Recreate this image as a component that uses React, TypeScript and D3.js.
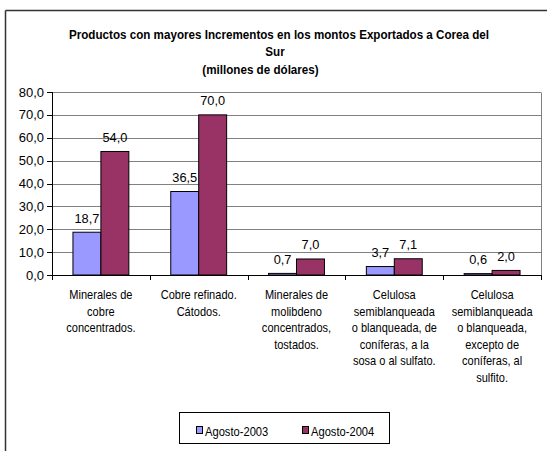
import React from "react";
import * as d3 from "d3";

const categories: string[][] = [
  ["Minerales de", "cobre", "concentrados."],
  ["Cobre refinado.", "Cátodos."],
  ["Minerales de", "molibdeno", "concentrados,", "tostados."],
  ["Celulosa", "semiblanqueada", "o blanqueada, de", "coníferas, a la", "sosa o al sulfato."],
  ["Celulosa", "semiblanqueada", "o blanqueada,", "excepto de", "coníferas, al", "sulfito."],
];
const agosto2003 = [18.7, 36.5, 0.7, 3.7, 0.6];
const agosto2004 = [54.0, 70.0, 7.0, 7.1, 2.0];
const seriesNames = ["Agosto-2003", "Agosto-2004"];
const seriesColors = ["#9999FF", "#993366"];
const yTicks = [0, 10, 20, 30, 40, 50, 60, 70, 80];
const titleLines = [
  "Productos con mayores Incrementos en los montos Exportados a Corea del",
  "Sur",
  "(millones de dólares)",
];

const W = 547;
const H = 451;
const FONT = "'Liberation Sans', Arial, sans-serif";
const fmt = (v: number) => d3.format(".1f")(v).replace(".", ",");

function CText(props: {
  x: number;
  y: number;
  sx: number;
  anchor?: "start" | "middle" | "end";
  size: number;
  bold?: boolean;
  children: React.ReactNode;
}) {
  return (
    <g transform={`translate(${props.x},${props.y}) scale(${props.sx},1)`}>
      <text
        x={0}
        y={0}
        textAnchor={props.anchor || "start"}
        fontSize={props.size}
        fontWeight={props.bold ? "bold" : "normal"}
        fill="#000"
      >
        {props.children}
      </text>
    </g>
  );
}

export default function App() {
  const left = 52;
  const right = 541;
  const top = 92;
  const bottom = 275;
  const x = d3
    .scaleBand<number>()
    .domain(categories.map((_, i) => i))
    .range([left, right])
    .padding(0);
  const inner = d3
    .scaleBand<number>()
    .domain([0, 1])
    .range([0, x.bandwidth()])
    .paddingInner(0)
    .paddingOuter(0.75);
  const y = d3.scaleLinear().domain([0, 80]).range([bottom, top]);
  const series = [agosto2003, agosto2004];

  const titleX = [279, 275, 260.5];
  const titleY = [39, 56, 74];

  return (
    <svg
      width={W}
      height={H}
      style={{ position: "absolute", left: 0, top: 0, background: "#fff" }}
      fontFamily={FONT}
    >
      <rect x={0} y={0} width={W} height={H} fill="#fff" />
      {/* outer frame (cropped at right & bottom) */}
      <line x1={5.5} y1={10.5} x2={W} y2={10.5} stroke="#333" strokeWidth={1.5} />
      <line x1={5.5} y1={10.5} x2={5.5} y2={H} stroke="#333" strokeWidth={1.5} />

      {/* title */}
      {titleLines.map((t, i) => (
        <CText key={i} x={titleX[i]} y={titleY[i]} sx={0.97} anchor="middle" size={12} bold>
          {t}
        </CText>
      ))}

      {/* gridlines */}
      {yTicks.map((t) => (
        <line
          key={"g" + t}
          x1={left}
          x2={right}
          y1={Math.round(y(t)) + 0.5}
          y2={Math.round(y(t)) + 0.5}
          stroke="#808080"
          strokeWidth={1}
        />
      ))}
      {/* plot right border */}
      <line x1={right + 0.5} x2={right + 0.5} y1={top + 0.5} y2={bottom + 0.5} stroke="#808080" />

      {/* bars */}
      {categories.map((_, i) =>
        series.map((s, j) => {
          const bx = (x(i) as number) + (inner(j) as number);
          const by = y(s[i]);
          return (
            <rect
              key={`b${i}-${j}`}
              x={bx}
              y={by}
              width={inner.bandwidth()}
              height={bottom - by}
              fill={seriesColors[j]}
              stroke="#000"
              strokeWidth={1}
            />
          );
        })
      )}

      {/* data labels */}
      {categories.map((_, i) =>
        series.map((s, j) => {
          const cx = (x(i) as number) + (inner(j) as number) + inner.bandwidth() / 2;
          return (
            <CText key={`l${i}-${j}`} x={cx} y={y(s[i]) - 9.5} sx={0.95} anchor="middle" size={13.5}>
              {fmt(s[i])}
            </CText>
          );
        })
      )}

      {/* y axis */}
      <line x1={left + 0.5} x2={left + 0.5} y1={top} y2={bottom + 0.5} stroke="#000" />
      {yTicks.map((t) => (
        <g key={"yt" + t}>
          <line
            x1={left - 5}
            x2={left}
            y1={Math.round(y(t)) + 0.5}
            y2={Math.round(y(t)) + 0.5}
            stroke="#000"
          />
          <CText x={44} y={y(t) + 4.5} sx={1} anchor="end" size={13}>
            {fmt(t)}
          </CText>
        </g>
      ))}

      {/* x axis */}
      <line x1={left} x2={right + 1} y1={bottom + 0.5} y2={bottom + 0.5} stroke="#000" />
      {[...categories.map((_, i) => x(i) as number), right].map((px, k) => (
        <line
          key={"xt" + k}
          x1={Math.round(px) + 0.5}
          x2={Math.round(px) + 0.5}
          y1={bottom}
          y2={bottom + 5}
          stroke="#000"
        />
      ))}
      {categories.map((lines, i) =>
        lines.map((ln, k) => (
          <CText
            key={`c${i}-${k}`}
            x={(x(i) as number) + x.bandwidth() / 2}
            y={299 + k * 16.5}
            sx={0.92}
            anchor="middle"
            size={12}
          >
            {ln}
          </CText>
        ))
      )}

      {/* legend */}
      <rect x={179.5} y={412.5} width={210} height={31} fill="#fff" stroke="#000" />
      {seriesNames.map((n, j) => {
        const lx = j === 0 ? 196 : 302;
        return (
          <g key={"lg" + j}>
            <rect x={lx + 0.5} y={426.5} width={6} height={7} fill={seriesColors[j]} stroke="#000" />
            <CText x={lx + 9} y={436} sx={0.93} size={12}>
              {n}
            </CText>
          </g>
        );
      })}
    </svg>
  );
}
